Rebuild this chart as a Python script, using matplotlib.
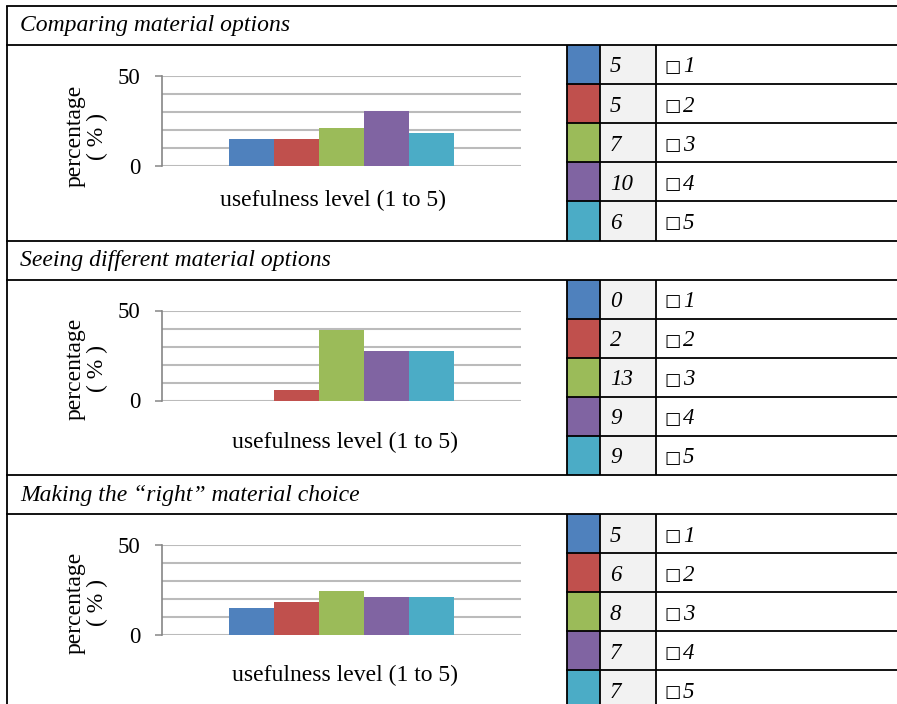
import matplotlib
matplotlib.use('Agg')
import matplotlib.pyplot as plt
from matplotlib.patches import Rectangle
import numpy as np

# ---------------- data ----------------
titles = ["Comparing material options",
          "Seeing different material options",
          "Making the \u201cright\u201d material choice"]
levels = ["1", "2", "3", "4", "5"]
counts_compare = [5, 5, 7, 10, 6]
counts_seeing = [0, 2, 13, 9, 9]
counts_right = [5, 6, 8, 7, 7]
pct_compare = [15.2, 15.2, 21.2, 30.3, 18.2]
pct_seeing = [0.0, 6.1, 39.4, 27.3, 27.3]
pct_right = [15.2, 18.2, 24.2, 21.2, 21.2]
y_label = "percentage\n( % )"
x_label = "usefulness level (1 to 5)"
ytick_vals = [0, 50]
grid_vals = [10, 20, 30, 40]

colors = ['#4F81BD', '#C0504D', '#9BBB59', '#8064A2', '#4BACC6']
counts_all = [counts_compare, counts_seeing, counts_right]
pct_all = [pct_compare, pct_seeing, pct_right]

# ---------------- layout ----------------
W, H = 897, 704
fig = plt.figure(figsize=(W / 100, H / 100), dpi=100)
serif = ['Liberation Serif', 'DejaVu Serif']
sym = ['DejaVu Sans']

bg = fig.add_axes([0, 0, 1, 1])
bg.set_xlim(0, W)
bg.set_ylim(H, 0)
bg.axis('off')

LW = 1.3
sec_tops = [6.0, 240.5, 475.0]
title_h = 39.0
row_h = 39.1
x_left = 7
x_c1, x_c2, x_c3 = 567.3, 600.0, 656.0
xlab_pos = [(333, 200), (344.5, 442), (344.5, 675)]
ylab_pos = [(86.5, 136), (86.5, 369), (86.5, 603)]

# left border
bg.plot([x_left, x_left], [sec_tops[0], H], color='black', lw=LW, solid_capstyle='butt')
bg.plot([x_left, W], [sec_tops[0], sec_tops[0]], color='black', lw=LW)

for s in range(3):
    top = sec_tops[s]
    ttop = top + title_h
    # title
    bg.text(20, top + 25.5, titles[s], fontsize=17, family=serif, style='italic',
            ha='left', va='baseline')
    bg.plot([x_left, W], [ttop, ttop], color='black', lw=LW)
    if s < 2:
        bg.plot([x_left, W], [sec_tops[s + 1], sec_tops[s + 1]], color='black', lw=LW)
    bottom = ttop + 5 * row_h
    # table cells
    for i in range(5):
        y0 = ttop + i * row_h
        bg.add_patch(Rectangle((x_c1, y0), x_c2 - x_c1, row_h, facecolor=colors[i],
                               edgecolor='none', zorder=1))
        bg.add_patch(Rectangle((x_c2, y0), x_c3 - x_c2, row_h, facecolor='#F2F2F2',
                               edgecolor='none', zorder=1))
        if i > 0:
            bg.plot([x_c1, W], [y0, y0], color='black', lw=LW, zorder=3)
        bg.text(610, y0 + 27.5, str(counts_all[s][i]), fontsize=16.5, family=serif,
                style='italic', ha='left', va='baseline', zorder=4)
        bg.text(664, y0 + 27.0, "\u25a1", fontsize=12.5, family=sym,
                ha='left', va='baseline', zorder=4)
        bg.text(683, y0 + 27.5, levels[i], fontsize=16.5, family=serif,
                style='italic', ha='left', va='baseline', zorder=4)
    for xv in (x_c1, x_c2, x_c3):
        bg.plot([xv, xv], [ttop, min(bottom, H)], color='black', lw=LW, zorder=3,
                solid_capstyle='butt')

    # chart
    ax_top = ttop + 31
    ax_h = 90
    ax = fig.add_axes([162 / W, 1 - (ax_top + ax_h) / H, 359 / W, ax_h / H])
    w = 0.6267 / 5
    xs = (np.arange(len(levels)) - 2) * w
    ax.bar(xs, pct_all[s], width=w, color=colors, zorder=3)
    ax.set_xlim(-0.5, 0.5)
    ax.set_ylim(0, 50)
    ax.set_yticks(ytick_vals)
    ax.set_yticks(grid_vals, minor=True)
    ax.set_yticklabels([str(v) for v in ytick_vals], fontsize=16.5, family=serif)
    ax.set_xticks([])
    ax.tick_params(axis='y', which='major', length=5, width=1.1, color='#868686', pad=10.5)
    ax.tick_params(axis='y', which='minor', length=0)
    ax.grid(axis='y', which='both', color='#BBBBBB', lw=1.5, zorder=0)
    ax.set_axisbelow(True)
    for sp in ('top', 'right', 'bottom'):
        ax.spines[sp].set_visible(False)
    ax.spines['left'].set_color('#868686')
    ax.spines['left'].set_linewidth(1.2)
    ax.patch.set_alpha(0)

    bg.text(xlab_pos[s][0], xlab_pos[s][1], x_label, fontsize=17, family=serif,
            ha='center', va='center')
    bg.text(ylab_pos[s][0], ylab_pos[s][1], y_label, fontsize=17, family=serif,
            ha='center', va='center', rotation=90, multialignment='center',
            linespacing=1.05)

fig.savefig('out.png', dpi=100)
